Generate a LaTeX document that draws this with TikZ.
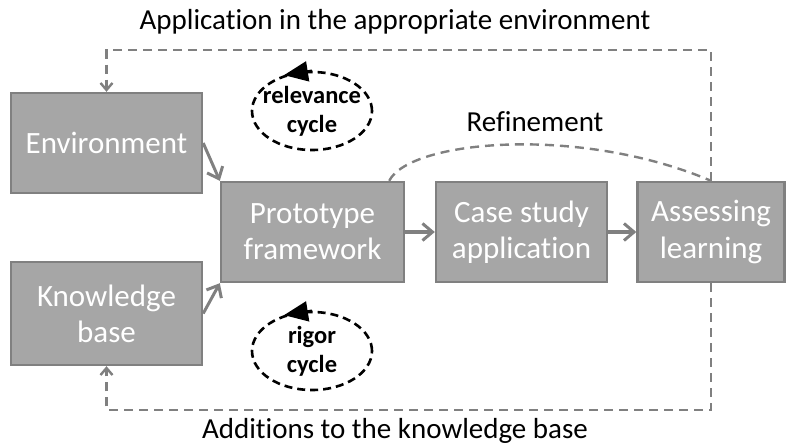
\documentclass[tikz,border=0pt]{standalone}
\usepackage{fontspec}
\setmainfont{Carlito}[Ligatures=NoCommon]
\usetikzlibrary{arrows.meta,shapes.geometric}
\definecolor{boxfill}{RGB}{166,166,166}
\definecolor{boxedge}{RGB}{128,128,128}
\definecolor{linegray}{RGB}{128,128,128}

\begin{document}
\begin{tikzpicture}[x=1pt, y=-1pt, line width=2.4pt,
  stage/.style={rectangle, draw=boxedge, fill=boxfill, text=white, align=center, inner sep=0pt, font=\fontsize{31}{36}\selectfont},
  flow/.style={draw=linegray, line width=3pt, -{Straight Barb[length=10pt,width=17pt]}},
  feedback/.style={draw=linegray, dash pattern=on 9pt off 6pt},
  back/.style={feedback, -{Straight Barb[length=7pt,width=12pt]}},
  cyclering/.style={ellipse, draw=black, line width=2.6pt, dash pattern=on 8pt off 5pt, minimum width=120pt, minimum height=78pt, inner xsep=-9pt, inner ysep=-3pt, align=center, font=\fontsize{24.5}{29}\selectfont\bfseries},
  note/.style={font=\fontsize{29}{34}\selectfont}]
\useasboundingbox (0,0) rectangle (786,446);
\node[stage, minimum width=191pt, minimum height=100pt] (env) at (106.5,143) {Environment};
\node[stage, minimum width=191pt, minimum height=103pt] (kb) at (106.5,313.5) {Knowledge\\base};
\node[stage, minimum width=183pt, minimum height=100pt] (proto) at (312.5,232) {Prototype\\framework};
\node[stage, minimum width=171pt, minimum height=100pt] (case) at (521.5,232) {Case study\\application};
\node[stage, minimum width=147pt, minimum height=100pt] (assess) at (711,232) {Assessing\\learning};
\node[cyclering] (rel) at (312,111) {relevance\\cycle};
\node[cyclering] (rig) at (312,351) {rigor\\cycle};
\draw[-{Triangle[length=24pt,width=20pt]}] (rel.north) -- (rel.128);
\draw[-{Triangle[length=24pt,width=20pt]}] (rig.north) -- (rig.128);
\draw[flow] (env.east) -- (proto.north west);
\draw[flow] (kb.east) -- (proto.south west);
\draw[flow] (proto) -- (case);
\draw[flow] (case) -- (assess);
\draw[back] (assess.north) -- (assess.north |- 0,50) -| (env.north);
\draw[back] (assess.south) -- (assess.south |- 0,410) -| (kb.south);
\draw[feedback] ([xshift=-16pt]proto.north east) .. controls (410,140) and (580,125) .. (assess.north);
\node[note] (app) at (395,22) {Application in the appropriate environment};
\node[note] (add) at (395,431) {Additions to the knowledge base};
\node[note] (refine) at (535,122) {Refinement};
\end{tikzpicture}
\end{document}
